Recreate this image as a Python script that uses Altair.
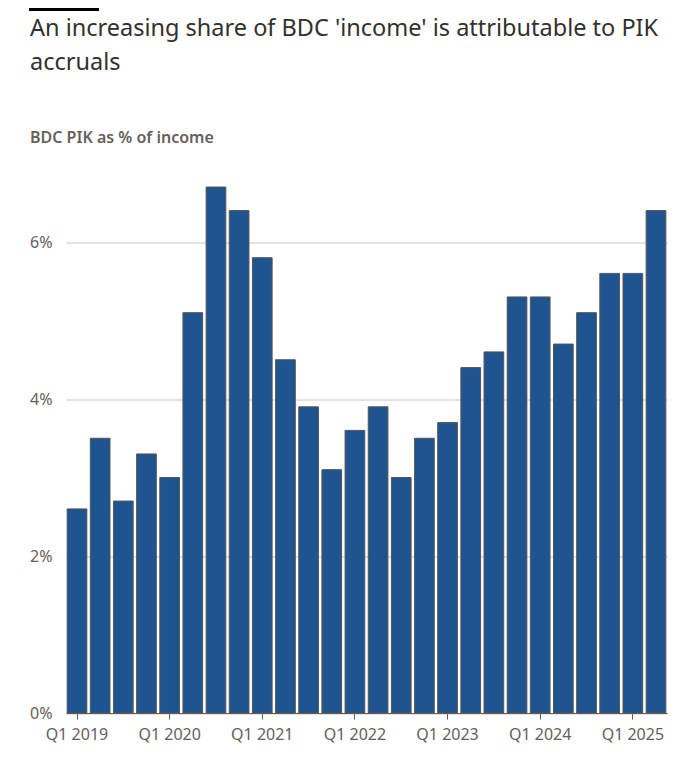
import altair as alt
import pandas as pd

quarters = [f"Q{q} {y}" for y in range(2019, 2026) for q in range(1, 5)][:26]
values = [2.6, 3.5, 2.7, 3.3, 3.0, 5.1, 6.7, 6.4, 5.8, 4.5, 3.9, 3.1, 3.6,
          3.9, 3.0, 3.5, 3.7, 4.4, 4.6, 5.3, 5.3, 4.7, 5.1, 5.6, 5.6, 6.4]
tick_labels = ["Q1 2019", "Q1 2020", "Q1 2021", "Q1 2022", "Q1 2023", "Q1 2024", "Q1 2025"]
y_ticks = [0, 2, 4, 6]
title_text = "An increasing share of BDC 'income' is attributable to PIK\naccruals"
subtitle_text = "BDC PIK as % of income"

df = pd.DataFrame({"quarter": quarters, "pik": values})

FONT = "Noto Sans"
TEXT = "#33302e"
MUTED = "#66605c"

bars = alt.Chart(df).mark_bar(color="#1e5590", stroke="#555555", strokeWidth=1).encode(
    x=alt.X("quarter:N", sort=quarters, title=None,
            scale=alt.Scale(paddingInner=0.15, paddingOuter=0.05),
            axis=alt.Axis(values=tick_labels, labelAngle=0, tickSize=6, tickColor=MUTED,
                          domainColor=MUTED, labelColor=MUTED, labelFontSize=16,
                          labelFont=FONT, labelPadding=7)),
    y=alt.Y("pik:Q", title=None, scale=alt.Scale(domain=[0, 7], nice=False),
            axis=alt.Axis(values=y_ticks, labelExpr="datum.value + '%'", domain=False,
                          ticks=False, grid=True, gridColor="#cec6b9", labelColor=MUTED,
                          labelFontSize=16, labelFont=FONT, labelPadding=14)),
)

topbar = alt.Chart(df).mark_rule(color="#000000", strokeWidth=3).encode(
    x=alt.value(-37), x2=alt.value(33), y=alt.value(-154)
)

title = alt.Chart(pd.DataFrame({"t": [title_text]})).mark_text(
    align="left", baseline="alphabetic", font=FONT, fontSize=23.5, color=TEXT,
    lineBreak="\n", lineHeight=34
).encode(text="t:N", x=alt.value(-36), y=alt.value(-127.5))

subtitle = alt.Chart(pd.DataFrame({"t": [subtitle_text]})).mark_text(
    align="left", baseline="alphabetic", font=FONT, fontSize=16, fontWeight=600, color=MUTED
).encode(text="t:N", x=alt.value(-36), y=alt.value(-20.5))

chart = alt.layer(bars, topbar, title, subtitle).properties(
    width=601,
    height=549.5,
    autosize=alt.AutoSizeParams(type="none"),
    padding={"left": 58, "top": 155.5, "right": 10, "bottom": 40},
).configure_view(stroke=None)

chart.save("out.html", embed_options={"renderer": "svg", "actions": False})
